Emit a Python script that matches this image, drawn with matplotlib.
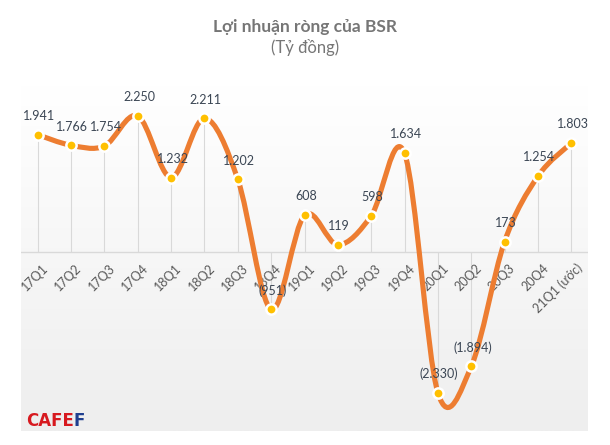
import matplotlib
matplotlib.use("Agg")
import matplotlib.pyplot as plt
import matplotlib.transforms as mtransforms
import numpy as np
from matplotlib.path import Path
from matplotlib.patches import PathPatch

# Net profit of BSR per quarter (billion VND)
quarters = ["17Q1", "17Q2", "17Q3", "17Q4", "18Q1", "18Q2", "18Q3", "18Q4",
            "19Q1", "19Q2", "19Q3", "19Q4", "20Q1", "20Q2", "20Q3", "20Q4",
            "21Q1 (ước)"]
profit = [1941, 1766, 1754, 2250, 1232, 2211, 1202, -951,
          608, 119, 598, 1634, -2330, -1894, 173, 1254, 1803]

title = "Lợi nhuận ròng của BSR"
subtitle = "(Tỷ đồng)"

LINE_COLOR = "#ED7D31"
MARKER_COLOR = "#FFC000"
GRID_COLOR = "#d9d9d9"

plt.rcParams['font.family'] = ['Lato', 'DejaVu Sans']


def fmt_value(v):
    s = f"{abs(v):,}".replace(",", ".")
    return f"({s})" if v < 0 else s


def smooth_path(xs, ys):
    # bezier segments through each point, like the "smoothed line" option of spreadsheets
    pts = np.column_stack([xs, ys]).astype(float)
    n = len(pts)
    verts = [pts[0]]
    codes = [Path.MOVETO]
    for i in range(n - 1):
        p_prev = pts[i - 1] if i > 0 else pts[i]
        p_next = pts[i + 2] if i + 2 < n else pts[i + 1]
        c1 = pts[i] + (pts[i + 1] - p_prev) / 6.0
        c2 = pts[i + 1] - (p_next - pts[i]) / 6.0
        verts += [c1, c2, pts[i + 1]]
        codes += [Path.CURVE4] * 3
    return Path(verts, codes)


fig = plt.figure(figsize=(6.10, 4.45), dpi=100)
fig.patch.set_facecolor("white")

W, H = 610.0, 445.0
ax = fig.add_axes([21 / W, (H - 431) / H, (588 - 21) / W, (431 - 85) / H])
ax.set_xlim(-0.5, len(quarters) - 0.5)
ax.set_ylim(-2962, 2763)

# light vertical gradient behind the plot
grad = np.linspace(1.0, 0.0, 256).reshape(-1, 1)
top = np.array([1.0, 1.0, 1.0])
bot = np.array([0xee, 0xee, 0xee]) / 255.0
img = top * grad[..., None] + bot * (1 - grad[..., None])
ax.imshow(img, extent=[0, 1, 0, 1], transform=ax.transAxes, aspect="auto",
          zorder=0, interpolation="bilinear")

x = np.arange(len(quarters))

# drop lines and zero axis
ax.vlines(x, 0, profit, color=GRID_COLOR, lw=0.8, zorder=1)
ax.axhline(0, color=GRID_COLOR, lw=1.0, zorder=1)

patch = PathPatch(smooth_path(x, profit), fill=False, edgecolor=LINE_COLOR,
                  lw=3.7, capstyle="round", joinstyle="round", zorder=2)
ax.add_patch(patch)
ax.plot(x, profit, ls="none", marker="o", ms=7.4, mfc=MARKER_COLOR,
        mec="white", mew=1.8, zorder=3)

for xi, v in zip(x, profit):
    ax.annotate(fmt_value(v), (xi, v), xytext=(1, 13.5), textcoords="offset points",
                ha="center", va="center", fontsize=9, color="#3b4654", zorder=4)

ax.set_xticks(x)
ax.set_xticklabels(quarters, rotation=45, ha="right", va="top",
                   rotation_mode="anchor", fontsize=9, color="#595959")
ax.tick_params(axis="x", length=0)
ax.set_yticks([])
for sp in ax.spines.values():
    sp.set_visible(False)

# tick labels hang from the zero line, not the bottom of the axes
label_tr = mtransforms.blended_transform_factory(ax.transData, ax.transData) + \
    mtransforms.ScaledTranslation(3 / 72, -7 / 72, fig.dpi_scale_trans)
for lbl in ax.get_xticklabels():
    lbl.set_transform(label_tr)
    lbl.set_position((lbl.get_position()[0], 0))

fig.text(305 / W, 1 - 27 / H, title, ha="center", va="center",
         fontsize=12.5, fontweight="bold", color="#767676")
fig.text(305 / W, 1 - 47 / H, subtitle, ha="center", va="center",
         fontsize=12, color="#767676")

# logo
logo = fig.text(26 / W, 1 - 421 / H, "CAFE", ha="left", va="center", fontsize=12,
                fontweight="heavy", color="#d7191f", family=["DejaVu Sans"])
ax.annotate("F", xy=(1, 0.5), xycoords=logo, xytext=(0, 0),
            textcoords="offset points", ha="left", va="center", fontsize=12,
            fontweight="heavy", color="#1f3f8f", family=["DejaVu Sans"],
            annotation_clip=False)

fig.savefig("out.png", dpi=100, facecolor="white")
